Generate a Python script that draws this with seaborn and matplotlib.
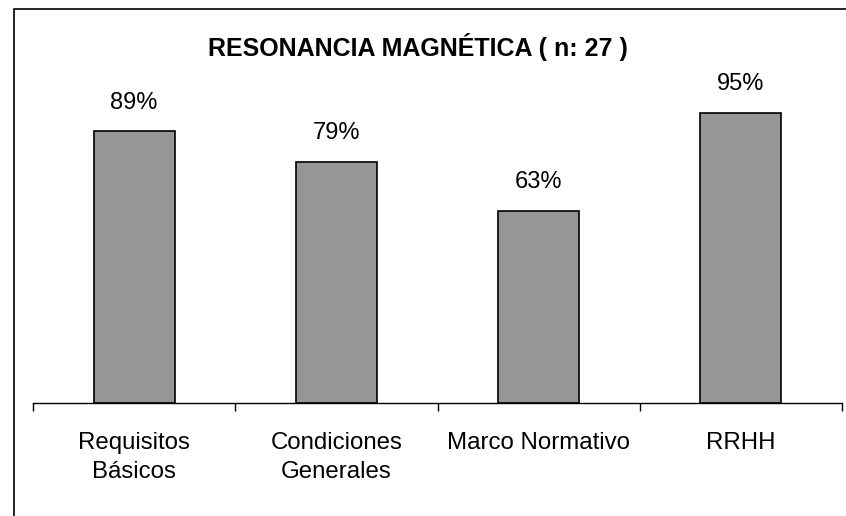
import matplotlib
matplotlib.use("Agg")
import matplotlib.pyplot as plt
import seaborn as sns
import pandas as pd
from matplotlib.patches import Rectangle

categories = ["Requisitos\nBásicos", "Condiciones\nGenerales", "Marco Normativo", "RRHH"]
values = [0.89, 0.79, 0.63, 0.95]
labels = ["89%", "79%", "63%", "95%"]
title = "RESONANCIA MAGNÉTICA ( n: 27 )"

sns.set_theme(style="white")
plt.rcParams['font.family'] = ['Liberation Sans', 'DejaVu Sans']
plt.rcParams['text.color'] = 'black'
plt.rcParams['xtick.color'] = 'black'
plt.rcParams['xtick.labelcolor'] = 'black'

W, H = 846, 516
fig = plt.figure(figsize=(W / 100, H / 100), dpi=100)
ax = fig.add_axes([33 / W, 1 - 403 / H, (842 - 33) / W, 305.5 / H])

df = pd.DataFrame({"cat": categories, "val": values})
sns.barplot(data=df, x="cat", y="val", color="#969696", saturation=1,
            edgecolor="black", linewidth=1.2, width=0.4, ax=ax)

ax.set_ylim(0, 1.0)
ax.set_xlim(-0.5, 3.5)
for p, lab in zip(ax.patches, labels):
    ax.annotate(lab, (p.get_x() + p.get_width() / 2, p.get_height()),
                xytext=(0, 12.5), textcoords="offset points",
                ha="center", va="bottom", fontsize=17, color="black",
                clip_on=False)

for s in ["top", "right", "left"]:
    ax.spines[s].set_visible(False)
ax.spines["bottom"].set_color("black")
ax.spines["bottom"].set_linewidth(1.0)
ax.set_yticks([])
ax.set_xlabel("")
ax.set_ylabel("")
ax.set_xticks([-0.5, 0.5, 1.5, 2.5, 3.5], minor=True)
ax.tick_params(axis="x", which="major", length=0, pad=21, labelsize=17.3,
               labelcolor="black")
ax.tick_params(axis="x", which="minor", length=6, width=1.0, color="black",
               direction="out", bottom=True)
for t in ax.get_xticklabels():
    t.set_linespacing(1.38)

fig.text(418 / W, 1 - 47 / H, title, ha="center", va="center",
         fontsize=18, fontweight="bold", color="black")

fig.patches.append(Rectangle((14 / W, -0.1), 2, 1 - 9 / H + 0.1,
                             transform=fig.transFigure, fill=False,
                             edgecolor="black", linewidth=1.2))

fig.savefig("out.png", dpi=100)
